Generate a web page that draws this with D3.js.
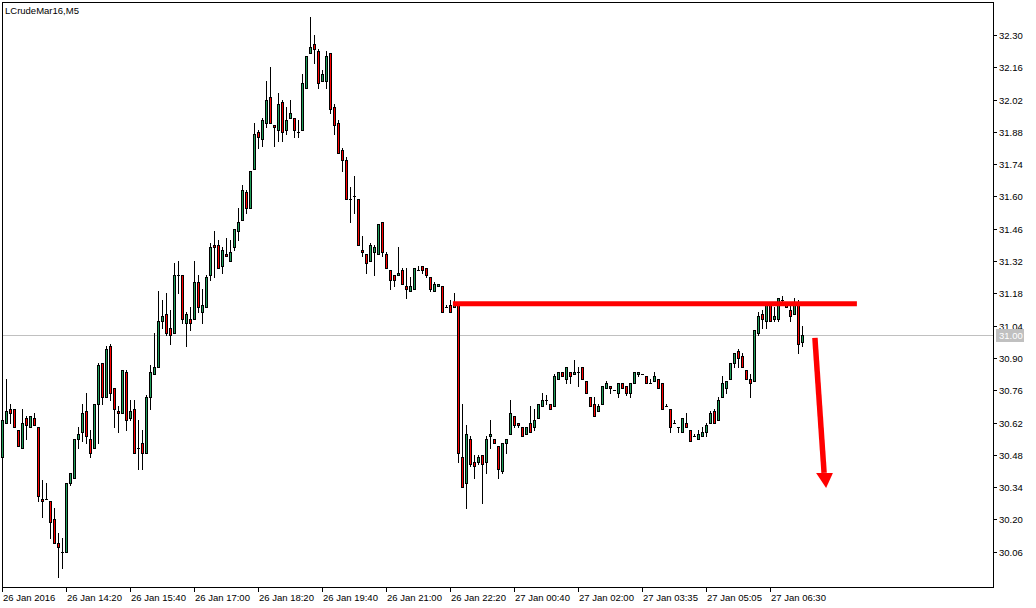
<!DOCTYPE html>
<html><head><meta charset="utf-8">
<script src="https://cdnjs.cloudflare.com/ajax/libs/d3/7.8.5/d3.min.js"></script>
<style>html,body{margin:0;padding:0;background:#fff;}svg text{font-family:"Liberation Sans",Arial,sans-serif;}</style>
</head><body>
<svg id="c" width="1036" height="608"></svg>
<script>
const title = "LCrudeMar16,M5";
const open = [30.47,30.62,30.68,30.68,30.59,30.51,30.64,30.60,30.64,30.60,30.29,30.29,30.28,30.20,30.10,30.06,30.06,30.36,30.38,30.55,30.58,30.67,30.55,30.51,30.70,30.88,30.73,30.95,30.77,30.67,30.66,30.84,30.64,30.68,30.51,30.53,30.49,30.73,30.83,30.86,31.06,31.09,31.03,31.01,31.26,31.26,31.05,31.07,31.07,31.23,31.10,31.12,31.26,31.39,31.39,31.30,31.35,31.32,31.38,31.45,31.50,31.62,31.55,31.72,31.88,31.85,31.92,32.03,31.91,31.89,32.01,31.89,31.94,31.94,31.88,31.89,32.07,32.22,32.26,32.23,32.10,32.10,32.22,31.99,31.92,31.80,31.76,31.59,31.60,31.59,31.37,31.35,31.32,31.36,31.35,31.49,31.35,31.28,31.26,31.26,31.28,31.21,31.19,31.20,31.28,31.30,31.29,31.25,31.19,31.21,31.21,31.12,31.13,31.12,31.14,30.47,30.36,30.55,30.45,30.45,30.48,30.45,30.56,30.55,30.52,30.41,30.53,30.57,30.65,30.62,30.60,30.57,30.62,30.60,30.64,30.69,30.72,30.70,30.69,30.81,30.84,30.81,30.84,30.83,30.84,30.86,30.80,30.73,30.70,30.67,30.70,30.77,30.78,30.76,30.75,30.79,30.78,30.75,30.79,30.83,30.83,30.82,30.79,30.80,30.81,30.79,30.69,30.68,30.62,30.60,30.58,30.62,30.59,30.56,30.55,30.56,30.58,30.62,30.67,30.63,30.73,30.77,30.81,30.88,30.93,30.91,30.85,30.81,30.80,31.01,31.09,31.06,31.13,31.07,31.07,31.15,31.13,31.11,31.09,31.14,30.97];
const high = [30.81,30.81,30.70,30.68,30.59,30.68,30.65,30.65,30.66,30.60,30.37,30.36,30.28,30.25,30.14,30.12,30.36,30.40,30.55,30.60,30.70,30.75,30.59,30.70,30.88,30.88,30.95,30.96,30.77,30.69,30.85,30.85,30.72,30.72,30.63,30.59,30.74,30.87,31.01,31.19,31.15,31.18,31.11,31.31,31.32,31.26,31.10,31.12,31.32,31.26,31.20,31.26,31.40,31.45,31.41,31.38,31.42,31.41,31.46,31.55,31.65,31.63,31.71,31.92,31.89,31.94,32.10,32.16,31.91,32.05,32.02,31.99,32.02,31.94,31.93,32.13,32.21,32.38,32.30,32.24,32.15,32.23,32.22,32.00,31.93,31.81,31.77,31.64,31.69,31.59,31.43,31.35,31.40,31.39,31.48,31.49,31.36,31.28,31.26,31.38,31.29,31.29,31.25,31.29,31.30,31.30,31.29,31.25,31.23,31.22,31.21,31.13,31.15,31.18,31.14,30.70,30.61,30.56,30.48,30.48,30.48,30.56,30.63,30.55,30.52,30.53,30.55,30.72,30.65,30.62,30.60,30.60,30.69,30.68,30.70,30.75,30.74,30.70,30.83,30.84,30.84,30.86,30.84,30.89,30.86,30.86,30.80,30.73,30.73,30.70,30.78,30.80,30.78,30.76,30.79,30.79,30.78,30.79,30.84,30.84,30.83,30.82,30.81,30.84,30.81,30.79,30.70,30.68,30.63,30.60,30.64,30.66,30.59,30.57,30.59,30.60,30.62,30.67,30.68,30.73,30.82,30.80,30.88,30.92,30.94,30.92,30.85,30.83,31.02,31.10,31.11,31.14,31.14,31.12,31.16,31.17,31.13,31.13,31.16,31.15,31.04];
const low = [30.46,30.62,30.62,30.60,30.52,30.51,30.55,30.60,30.61,30.28,30.21,30.29,30.12,30.10,29.95,29.99,30.06,30.35,30.38,30.51,30.54,30.53,30.47,30.51,30.53,30.70,30.73,30.72,30.60,30.58,30.66,30.59,30.63,30.49,30.42,30.42,30.49,30.68,30.83,30.86,31.03,31.00,30.96,31.01,31.18,31.05,30.95,31.02,31.07,31.10,31.05,31.12,31.24,31.25,31.29,31.27,31.34,31.32,31.37,31.41,31.50,31.53,31.55,31.72,31.81,31.82,31.90,31.92,31.82,31.84,31.84,31.87,31.94,31.86,31.86,31.89,32.07,32.22,32.18,32.07,32.10,32.07,31.96,31.87,31.79,31.71,31.59,31.49,31.53,31.39,31.34,31.27,31.32,31.26,31.35,31.34,31.29,31.20,31.21,31.26,31.22,31.16,31.19,31.20,31.28,31.27,31.25,31.19,31.19,31.21,31.10,31.12,31.10,31.12,30.45,30.34,30.25,30.43,30.38,30.44,30.27,30.40,30.51,30.53,30.38,30.40,30.49,30.57,30.60,30.60,30.56,30.57,30.58,30.59,30.64,30.69,30.70,30.68,30.69,30.81,30.82,30.79,30.79,30.83,30.78,30.81,30.75,30.69,30.65,30.67,30.70,30.77,30.75,30.76,30.73,30.77,30.74,30.73,30.79,30.82,30.83,30.79,30.79,30.80,30.77,30.68,30.69,30.58,30.62,30.58,30.58,30.60,30.54,30.56,30.55,30.56,30.56,30.62,30.62,30.63,30.73,30.75,30.81,30.86,30.86,30.86,30.81,30.73,30.80,31.00,31.03,31.03,31.06,31.06,31.06,31.13,31.12,31.06,31.09,30.92,30.95];
const close = [30.63,30.67,30.66,30.60,30.52,30.62,30.61,30.65,30.61,30.30,30.28,30.29,30.19,30.10,30.08,30.06,30.36,30.40,30.55,30.57,30.66,30.56,30.49,30.70,30.87,30.73,30.94,30.75,30.68,30.66,30.85,30.63,30.67,30.49,30.51,30.49,30.73,30.84,30.86,31.06,31.08,31.01,31.00,31.26,31.26,31.07,31.09,31.05,31.23,31.12,31.13,31.25,31.38,31.38,31.29,31.37,31.34,31.36,31.46,31.49,31.63,31.55,31.71,31.87,31.86,31.93,32.02,31.92,31.90,32.00,31.88,31.93,31.96,31.89,31.88,32.09,32.21,32.25,32.24,32.09,32.13,32.21,31.98,31.91,31.79,31.76,31.59,31.59,31.60,31.39,31.36,31.31,31.39,31.38,31.48,31.36,31.29,31.24,31.24,31.27,31.22,31.20,31.21,31.29,31.28,31.28,31.26,31.20,31.22,31.22,31.10,31.12,31.10,31.14,30.49,30.34,30.57,30.44,30.43,30.47,30.44,30.55,30.57,30.53,30.42,30.53,30.55,30.66,30.61,30.61,30.56,30.60,30.58,30.63,30.70,30.72,30.72,30.68,30.82,30.84,30.82,30.86,30.82,30.84,30.84,30.81,30.75,30.69,30.65,30.69,30.78,30.79,30.77,30.76,30.79,30.77,30.75,30.79,30.84,30.84,30.83,30.79,30.79,30.82,30.77,30.68,30.69,30.60,30.62,30.60,30.64,30.60,30.54,30.56,30.57,30.58,30.61,30.66,30.62,30.72,30.79,30.80,30.88,30.92,30.90,30.86,30.81,30.79,31.02,31.08,31.07,31.13,31.06,31.08,31.16,31.15,31.12,31.08,31.14,30.96,31.00];
const yTicks = [32.30,32.16,32.02,31.88,31.74,31.60,31.46,31.32,31.18,31.04,30.90,30.76,30.62,30.48,30.34,30.20,30.06];
const xLabels = ["26 Jan 2016","26 Jan 14:20","26 Jan 15:40","26 Jan 17:00","26 Jan 18:20","26 Jan 19:40","26 Jan 21:00","26 Jan 22:20","27 Jan 00:40","27 Jan 02:00","27 Jan 03:35","27 Jan 05:05","27 Jan 06:30"];
const xLabelBars = [0,16,32,48,64,80,96,112,128,144,160,176,192];
const lastPrice = 31.00;
// annotations (bar index, price)
const resistance = {from: 112.6, to: 213.6, level: 31.135};
const arrowShaft = [[203.1, 30.987],[205.4, 30.402]];
const arrowHead = [[203.4, 30.402],[207.6, 30.402],[205.9, 30.337]];

const svg = d3.select("#c");
const x = d3.scaleLinear().domain([0, 200]).range([2.5, 802.5]);
const y = d3.scaleLinear().domain([30.06, 32.30]).range([551.8, 35]);
const ry = v => Math.round(y(v));
const UP = "#1f9e5a", DN = "#ff0000";

// frame
svg.append("rect").attr("x",2.5).attr("y",2.5).attr("width",991).attr("height",585)
  .attr("fill","none").attr("stroke","#000").attr("shape-rendering","crispEdges");

// current price line
svg.append("line").attr("x1",3).attr("x2",993).attr("y1",ry(lastPrice)+0.5).attr("y2",ry(lastPrice)+0.5)
  .attr("stroke","#c0c0c0").attr("shape-rendering","crispEdges");

const bars = d3.range(open.length);
const g = svg.append("g").attr("shape-rendering","crispEdges");
g.selectAll("line.w").data(bars).join("line").attr("class","w")
  .attr("x1",k=>x(k)).attr("x2",k=>x(k))
  .attr("y1",k=>ry(high[k])).attr("y2",k=>ry(low[k])+1)
  .attr("stroke","#000");
const bodies = bars.filter(k=>open[k]!==close[k]);
g.selectAll("rect.b").data(bodies).join("rect").attr("class","b")
  .attr("x",k=>x(k)-1).attr("width",2)
  .attr("y",k=>ry(Math.max(open[k],close[k]))+0.5)
  .attr("height",k=>Math.max(1,ry(Math.min(open[k],close[k]))-ry(Math.max(open[k],close[k]))))
  .attr("fill",k=>close[k]>open[k]?UP:DN).attr("stroke","#000");
const dojis = bars.filter(k=>open[k]===close[k]);
g.selectAll("line.d").data(dojis).join("line").attr("class","d")
  .attr("x1",k=>x(k)-1.5).attr("x2",k=>x(k)+1.5)
  .attr("y1",k=>ry(open[k])+0.5).attr("y2",k=>ry(open[k])+0.5).attr("stroke","#000");

// y axis
const ya = svg.append("g");
ya.selectAll("line").data(yTicks).join("line")
  .attr("x1",993).attr("x2",997).attr("y1",t=>ry(t)+0.5).attr("y2",t=>ry(t)+0.5)
  .attr("stroke","#000").attr("shape-rendering","crispEdges");
ya.selectAll("text").data(yTicks).join("text")
  .attr("x",999).attr("y",t=>ry(t)+4).attr("font-size","9.5px").attr("fill","#000")
  .text(t=>d3.format(".2f")(t));
// last price label
svg.append("rect").attr("x",996).attr("y",ry(lastPrice)-6).attr("width",28).attr("height",13).attr("fill","#c0c0c0");
svg.append("text").attr("x",999).attr("y",ry(lastPrice)+4).attr("font-size","9.5px").attr("fill","#fff").text(d3.format(".2f")(lastPrice));

// x axis
const xa = svg.append("g");
xa.selectAll("line").data(xLabelBars).join("line")
  .attr("x1",k=>Math.floor(x(k))+0.5).attr("x2",k=>Math.floor(x(k))+0.5).attr("y1",587).attr("y2",592)
  .attr("stroke","#000").attr("shape-rendering","crispEdges");
xa.selectAll("text").data(xLabelBars).join("text")
  .attr("x",(k,i)=>Math.floor(x(k))+ (i===0?1:1)).attr("y",601).attr("font-size","9.5px").attr("fill","#000")
  .text((k,i)=>xLabels[i]);

// title
svg.append("text").attr("x",5).attr("y",14).attr("font-size","9.5px").attr("fill","#000").text(title);

// annotations
svg.append("line").attr("x1",x(resistance.from)).attr("x2",x(resistance.to))
  .attr("y1",y(resistance.level)).attr("y2",y(resistance.level))
  .attr("stroke","#ff0000").attr("stroke-width",5);
svg.append("line").attr("x1",x(arrowShaft[0][0])).attr("y1",y(arrowShaft[0][1]))
  .attr("x2",x(arrowShaft[1][0])).attr("y2",y(arrowShaft[1][1]))
  .attr("stroke","#ff0000").attr("stroke-width",5.5);
svg.append("path").attr("d", d3.line().x(d=>x(d[0])).y(d=>y(d[1]))(arrowHead)+"Z").attr("fill","#ff0000");
</script>
</body></html>
